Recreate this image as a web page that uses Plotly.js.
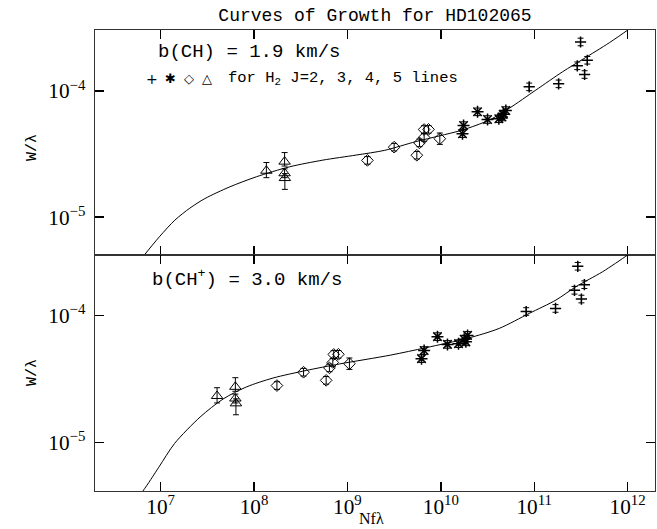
<!DOCTYPE html>
<html><head><meta charset="utf-8">
<script src="https://cdn.plot.ly/plotly-3.0.1.min.js"></script>
<style>html,body{margin:0;padding:0;background:#fff}#chart{width:657px;height:529px}</style>
</head><body><div id="chart"></div>
<script>
// ---- Data (log10 values) ----
// log10(W/lambda), same observed values in both panels
const logW_J2 = [-3.967, -3.943, -3.800, -3.611, -3.756, -3.869];
const logW_J3 = [-4.338, -4.274, -4.165, -4.226, -4.220, -4.185, -4.155, -4.206];
const logW_J4 = [-4.550, -4.445, -4.509, -4.411, -4.368, -4.305, -4.304, -4.378];
const logW_J5 = [-4.632, -4.560, -4.652, -4.690];
// errors in dex (upper, lower)
const errUp_J2 = [0.03, 0.03, 0.03, 0.03, 0.03, 0.03];
const errDn_J2 = [0.03, 0.03, 0.03, 0.03, 0.03, 0.03];
const errUp_J3 = [0.03, 0.03, 0.03, 0.03, 0.03, 0.03, 0.03, 0.03];
const errDn_J3 = [0.03, 0.03, 0.03, 0.03, 0.03, 0.03, 0.03, 0.03];
const errUp_J4 = [0.03, 0.03, 0.03, 0.03, 0.03, 0.03, 0.03, 0.045];
const errDn_J4 = [0.03, 0.03, 0.03, 0.03, 0.03, 0.03, 0.03, 0.045];
const errUp_J5 = [0.065, 0.072, 0.035, 0.035];
const errDn_J5 = [0.055, 0.035, 0.035, 0.09];
// log10(N f lambda), top panel b(CH)=1.9 km/s
const logNfl_top_J2 = [10.946, 11.261, 11.461, 11.496, 11.568, 11.539];
const logNfl_top_J3 = [10.232, 10.243, 10.393, 10.500, 10.621, 10.668, 10.696, 10.654];
const logNfl_top_J4 = [9.214, 9.500, 9.743, 9.771, 9.821, 9.821, 9.868, 9.989];
const logNfl_top_J5 = [8.132, 8.327, 8.327, 8.330];
// log10(N f lambda), bottom panel b(CH+)=3.0 km/s
const logNfl_bot_J2 = [10.914, 11.228, 11.431, 11.466, 11.537, 11.505];
const logNfl_bot_J3 = [9.793, 9.821, 9.964, 10.071, 10.189, 10.250, 10.286, 10.268];
const logNfl_bot_J4 = [8.245, 8.530, 8.772, 8.807, 8.843, 8.853, 8.903, 9.021];
const logNfl_bot_J5 = [7.604, 7.800, 7.800, 7.806];
// curves of growth
const cogTop_x = [6.70, 6.832, 6.992, 7.152, 7.312, 7.473, 7.740, 8.025, 8.380, 8.736, 9.092, 9.40, 9.732, 9.982, 10.232, 10.518, 10.732, 11.018, 11.304, 11.518, 11.804, 12.0, 12.15];
const cogTop_y = [-5.42, -5.294, -5.151, -5.024, -4.929, -4.853, -4.760, -4.680, -4.601, -4.548, -4.508, -4.470, -4.401, -4.356, -4.309, -4.230, -4.137, -3.992, -3.847, -3.749, -3.617, -3.517, -3.44];
const cogBot_x = [6.67, 6.81, 6.98, 7.150, 7.422, 7.668, 7.918, 8.202, 8.559, 8.914, 9.464, 9.839, 10.286, 10.625, 10.946, 11.232, 11.446, 11.732, 12.0, 12.15];
const cogBot_y = [-5.50, -5.380, -5.193, -5.005, -4.798, -4.656, -4.561, -4.491, -4.431, -4.380, -4.310, -4.252, -4.178, -4.100, -3.982, -3.877, -3.772, -3.654, -3.522, -3.44];

const lin = a => a.map(v => Math.pow(10, v));
const eUp = (l, e) => l.map((v, i) => Math.pow(10, v + e[i]) - Math.pow(10, v));
const eDn = (l, e) => l.map((v, i) => Math.pow(10, v) - Math.pow(10, v - e[i]));

function pts(xs, ys, up, dn, symbol, size, lw, xa, ya) {
  return {
    x: lin(xs), y: lin(ys), xaxis: xa, yaxis: ya, mode: 'markers', type: 'scatter',
    marker: {symbol: symbol, size: size, color: '#000', line: {color: '#000', width: lw}},
    error_y: {type: 'data', symmetric: false, array: eUp(ys, up), arrayminus: eDn(ys, dn),
              color: '#000', thickness: 1, width: 3},
    hoverinfo: 'skip'
  };
}
function curve(xs, ys, xa, ya) {
  return {x: lin(xs), y: lin(ys), xaxis: xa, yaxis: ya, mode: 'lines', type: 'scatter',
          line: {color: '#000', width: 1, shape: 'spline', smoothing: 0.8}, hoverinfo: 'skip'};
}

const data = [
  curve(cogTop_x, cogTop_y, 'x', 'y'),
  pts(logNfl_top_J5, logW_J5, errUp_J5, errDn_J5, 'triangle-up-open', 10, 1, 'x', 'y'),
  pts(logNfl_top_J4, logW_J4, errUp_J4, errDn_J4, 'diamond-open', 9, 1, 'x', 'y'),
  pts(logNfl_top_J3, logW_J3, errUp_J3, errDn_J3, 'asterisk-open', 10, 1.5, 'x', 'y'),
  pts(logNfl_top_J2, logW_J2, errUp_J2, errDn_J2, 'cross-thin-open', 8, 1.5, 'x', 'y'),
  curve(cogBot_x, cogBot_y, 'x2', 'y2'),
  pts(logNfl_bot_J5, logW_J5, errUp_J5, errDn_J5, 'triangle-up-open', 10, 1, 'x2', 'y2'),
  pts(logNfl_bot_J4, logW_J4, errUp_J4, errDn_J4, 'diamond-open', 9, 1, 'x2', 'y2'),
  pts(logNfl_bot_J3, logW_J3, errUp_J3, errDn_J3, 'asterisk-open', 10, 1.5, 'x2', 'y2'),
  pts(logNfl_bot_J2, logW_J2, errUp_J2, errDn_J2, 'cross-thin-open', 8, 1.5, 'x2', 'y2')
];

const xr = [6.297, 12.293];
const split = 0.512;
const yrTop = [-5.30, -3.516], yrBot = [-5.38, -3.522];
const plotW = 657 - 95 - 2;

// minor ticks (2..9 x 10^n) on both vertical edges of each panel
const shapes = [];
function minorTicks(yref, yr) {
  const t = 6 / plotW;
  [-6, -5, -4, -3].forEach(p => {
    for (let d = 2; d <= 9; d++) {
      const lv = Math.log10(d) + p;
      if (lv <= yr[0] || lv >= yr[1]) continue;
      [[0, t], [1 - t, 1]].forEach(([a, b]) => shapes.push({
        type: 'line', xref: 'paper', yref: yref, x0: a, x1: b, y0: lv, y1: lv,
        line: {color: '#000', width: 1.4}, layer: 'above'
      }));
    }
  });
}
minorTicks('y', yrTop);
minorTicks('y2', yrBot);

const ax = {type: 'log', showgrid: false, zeroline: false, showline: true, linecolor: '#333', linewidth: 1.2,
            ticks: 'inside', tickcolor: '#000', tickwidth: 1.4, ticklen: 9, mirror: 'allticks', dtick: 1,
            exponentformat: 'power', tickfont: {family: 'Liberation Serif', size: 17, color: '#000'}};
const txt = {family: 'Liberation Mono', color: '#000'};

const layout = {
  width: 657, height: 529, margin: {l: 95, r: 2, t: 30, b: 38},
  paper_bgcolor: '#fff', plot_bgcolor: '#fff', showlegend: false,
  title: {text: 'Curves of Growth for HD102065', font: Object.assign({size: 18}, txt),
          x: 0.5, xref: 'paper', y: 0.973, yref: 'container', yanchor: 'middle'},
  xaxis: Object.assign({}, ax, {range: xr, anchor: 'y', showticklabels: false}),
  xaxis2: Object.assign({}, ax, {range: xr, anchor: 'y2', ticklabelstandoff: -3}),
  yaxis: Object.assign({}, ax, {range: yrTop, domain: [split, 1], anchor: 'x', ticklabelstandoff: 5}),
  yaxis2: Object.assign({}, ax, {range: yrBot, domain: [0, split], anchor: 'x2', ticklabelstandoff: 5}),
  shapes: shapes,
  annotations: [
    {text: 'b(CH) = 1.9 km/s', xref: 'paper', yref: 'paper', x: (156 - 95) / 560, y: 0.952, xanchor: 'left', yanchor: 'middle', showarrow: false, font: Object.assign({size: 19}, txt)},
    {text: '+', xref: 'paper', yref: 'paper', x: (151.7 - 95) / 560, y: 0.894, xanchor: 'center', yanchor: 'middle', showarrow: false, font: {family: 'DejaVu Sans', size: 14, color: '#000'}},
    {text: '✱', xref: 'paper', yref: 'paper', x: (170 - 95) / 560, y: 0.894, xanchor: 'center', yanchor: 'middle', showarrow: false, font: {family: 'DejaVu Sans', size: 13, color: '#000'}},
    {text: '◇', xref: 'paper', yref: 'paper', x: (189.3 - 95) / 560, y: 0.894, xanchor: 'center', yanchor: 'middle', showarrow: false, font: {family: 'DejaVu Sans', size: 13, color: '#000'}},
    {text: '△', xref: 'paper', yref: 'paper', x: (206.7 - 95) / 560, y: 0.894, xanchor: 'center', yanchor: 'middle', showarrow: false, font: {family: 'DejaVu Sans', size: 13, color: '#000'}},
    {text: 'for H<sub>2</sub> J=2, 3, 4, 5 lines', xref: 'paper', yref: 'paper', x: (226 - 95) / 560, y: 0.894, xanchor: 'left', yanchor: 'middle', showarrow: false, font: Object.assign({size: 15.5}, txt)},
    {text: 'b(CH<sup>+</sup>) = 3.0 km/s', xref: 'paper', yref: 'paper', x: (150 - 95) / 560, y: 0.462, xanchor: 'left', yanchor: 'middle', showarrow: false, font: Object.assign({size: 19}, txt)},
    {text: 'W/λ', xref: 'paper', yref: 'paper', x: (32 - 95) / 560, y: (491 - 148) / 461, xanchor: 'center', yanchor: 'middle', textangle: -90, showarrow: false, font: Object.assign({size: 15}, txt)},
    {text: 'W/λ', xref: 'paper', yref: 'paper', x: (32 - 95) / 560, y: (491 - 373) / 461, xanchor: 'center', yanchor: 'middle', textangle: -90, showarrow: false, font: Object.assign({size: 15}, txt)},
    {text: 'Nfλ', xref: 'paper', yref: 'paper', x: (371 - 95) / 560, y: (491 - 518) / 461, xanchor: 'center', yanchor: 'middle', showarrow: false, font: {family: 'Liberation Serif', size: 16, color: '#000'}}
  ]
};

Plotly.newPlot('chart', data, layout, {staticPlot: true, displayModeBar: false});
</script>
</body></html>
